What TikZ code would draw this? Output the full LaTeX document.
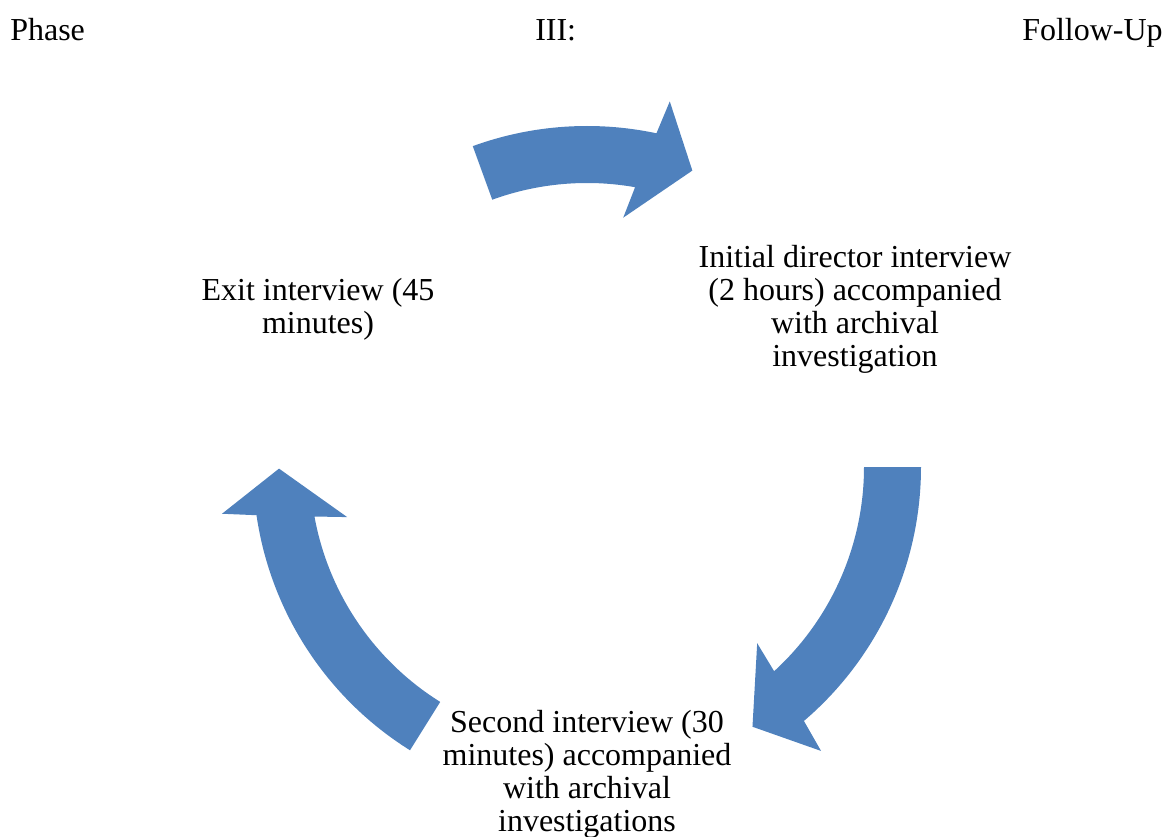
\documentclass[tikz,border=0pt]{standalone}
\usepackage{fontspec}
\setmainfont{Liberation Serif}
\definecolor{cycleblue}{HTML}{4F81BD}
\tikzset{%
    steptext/.style={align=center, inner sep=0pt,
        font=\fontsize{24}{24.75}\selectfont},
    titletext/.style={inner sep=0pt,
        font=\fontsize{24}{24.75}\selectfont},
    cyclearrow/.style={fill=cycleblue, draw=none}
}
% curved block arrow, clockwise: #1 tail angle, #2 head base angle
\newcommand\cyclearrow[2]{%
    \fill[cyclearrow] (#1:334)
    arc [start angle=#1, end angle=#2, radius=334]
    -- (#2-1:368) -- (#2-8:308) -- (#2+3.5:245) -- (#2+2:277)
    arc [start angle=#2+2, end angle=#1, radius=277]
    -- cycle;%
}

\begin{document}
\begin{tikzpicture}[x=0.75pt, y=0.75pt]
\useasboundingbox (-587,-369) rectangle (579,467);
% title
\node[titletext, anchor=base west] (phase) at (-577,426) {Phase};
\node[titletext, anchor=base west] (three) at (-52,426) {III:};
\node[titletext, anchor=base east] (follow) at (576,426) {Follow-Up};
% cycle arrows
\begin{scope}[shift={(0,7)}]
\cyclearrow{110}{78}
\end{scope}
\cyclearrow{0}{-49.5}
\cyclearrow{238}{188.3}
% steps
\node[steptext] (initial) at (268,158)
    {Initial director interview\\(2 hours) accompanied\\with archival\\investigation};
\node[steptext] (second) at (0,-307)
    {Second interview (30\\minutes) accompanied\\with archival\\investigations};
\node[steptext] (exit) at (-269,158) {Exit interview (45\\minutes)};
\end{tikzpicture}
\end{document}
